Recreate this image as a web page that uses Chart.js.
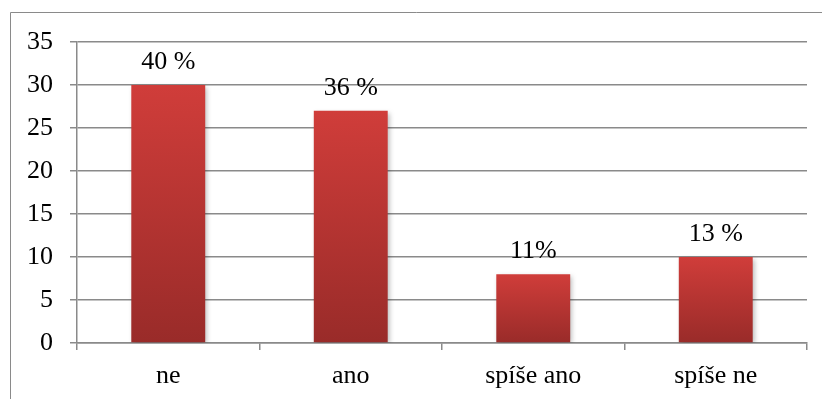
<!DOCTYPE html>
<html>
<head>
<meta charset="utf-8">
<script src="https://cdn.jsdelivr.net/npm/chart.js@4.4.1/dist/chart.umd.min.js"></script>
<style>
  html, body { margin: 0; padding: 0; background: #ffffff; }
  #wrap { width: 822px; height: 399px; position: relative; }
</style>
</head>
<body>
<div id="wrap"><canvas id="c" width="822" height="399"></canvas></div>
<script>
// Odpovědi respondentů (počty) a popisky v procentech
const categories = ['ne', 'ano', 'spíše ano', 'spíše ne'];
const counts = [30, 27, 8, 10];
const percentLabels = ['40 %', '36 %', '11%', '13 %'];
const yTicks = [0, 5, 10, 15, 20, 25, 30, 35];

const FONT = '"Liberation Serif", "Times New Roman", serif';
const FONT_SIZE = 26;
const GRID = '#8a8a8a';

// Frame around the whole chart (top and left edges visible)
const framePlugin = {
  id: 'frame',
  beforeDraw(chart) {
    const ctx = chart.ctx;
    ctx.save();
    ctx.strokeStyle = '#8a8a8a';
    ctx.lineWidth = 1;
    ctx.beginPath();
    ctx.moveTo(10.5, chart.height);
    ctx.lineTo(10.5, 12.5);
    ctx.lineTo(chart.width, 12.5);
    ctx.stroke();
    ctx.restore();
  }
};

// Soft drop shadow under the bars
const shadowPlugin = {
  id: 'barShadow',
  beforeDatasetsDraw(chart) {
    const ctx = chart.ctx;
    ctx.save();
    ctx.shadowColor = 'rgba(0,0,0,0.28)';
    ctx.shadowBlur = 5;
    ctx.shadowOffsetX = 2;
    ctx.shadowOffsetY = 2;
  },
  afterDatasetsDraw(chart) {
    chart.ctx.restore();
  }
};

// Percentage text above each bar
const valueLabelPlugin = {
  id: 'valueLabels',
  afterDatasetsDraw(chart) {
    const ctx = chart.ctx;
    const meta = chart.getDatasetMeta(0);
    ctx.save();
    ctx.font = FONT_SIZE + 'px ' + FONT;
    ctx.fillStyle = '#000000';
    ctx.textAlign = 'center';
    ctx.textBaseline = 'alphabetic';
    meta.data.forEach((bar, i) => {
      ctx.fillText(percentLabels[i], bar.x, bar.y - 16);
    });
    ctx.restore();
  }
};

function barGradient(context) {
  const chart = context.chart;
  if (!chart.chartArea || !chart.scales.y) return '#B8332F';
  const y = chart.scales.y;
  const v = context.raw;
  const top = y.getPixelForValue(v);
  const base = y.getPixelForValue(0);
  if (!isFinite(top) || !isFinite(base) || top === base) return '#B8332F';
  const g = chart.ctx.createLinearGradient(0, top, 0, base);
  g.addColorStop(0, '#D03D3A');
  g.addColorStop(1, '#992B29');
  return g;
}

new Chart(document.getElementById('c'), {
  type: 'bar',
  data: {
    labels: categories,
    datasets: [{
      data: counts,
      backgroundColor: barGradient,
      borderWidth: 0,
      barPercentage: 0.405,
      categoryPercentage: 1.0
    }]
  },
  options: {
    responsive: false,
    animation: false,
    devicePixelRatio: 1,
    layout: { padding: { left: 0, right: 15, top: 42, bottom: 0 } },
    plugins: {
      legend: { display: false },
      tooltip: { enabled: false }
    },
    scales: {
      x: {
        offset: true,
        grid: {
          display: true,
          drawOnChartArea: false,
          drawTicks: true,
          tickLength: 7,
          color: GRID,
          lineWidth: 1.5,
          offset: true
        },
        border: { display: true, color: GRID, width: 1.5 },
        ticks: {
          color: '#000000',
          font: { family: FONT, size: FONT_SIZE, lineHeight: 1.0 },
          padding: 13,
          maxRotation: 0
        },
        afterFit(scale) { scale.height = 56; }
      },
      y: {
        min: 0,
        max: 35,
        afterBuildTicks(scale) {
          scale.ticks = yTicks.map(v => ({ value: v }));
        },
        grid: {
          color: GRID,
          lineWidth: 1.5,
          drawTicks: true,
          tickLength: 7
        },
        border: { display: true, color: GRID, width: 1.5 },
        ticks: {
          color: '#000000',
          font: { family: FONT, size: FONT_SIZE },
          padding: 17
        },
        afterFit(scale) { scale.width = 77; }
      }
    }
  },
  plugins: [framePlugin, shadowPlugin, valueLabelPlugin]
});
</script>
</body>
</html>
